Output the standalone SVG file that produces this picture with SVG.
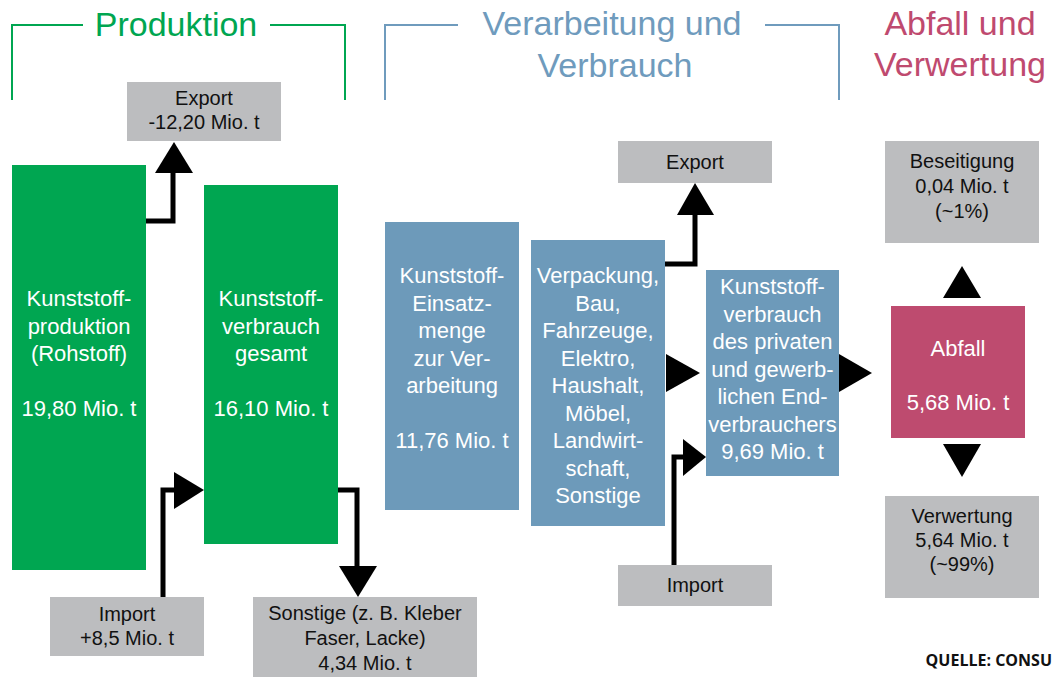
<svg xmlns="http://www.w3.org/2000/svg" width="1052" height="677" viewBox="0 0 1052 677">
<style>
text{font-family:"Liberation Sans",Arial,Helvetica,sans-serif;text-anchor:middle}
.h{font-size:34px}
.hg{fill:#00a651}.hb{fill:#6f9bbd}.hr{fill:#bf4a6f}
.br{fill:none;stroke-width:2}
.g{fill:#00a651}.b{fill:#6d9aba}.r{fill:#be4b6f}.gr{fill:#bcbdbf}
.wt{fill:#fff;font-size:22px}
.bt{fill:#111;font-size:20px}
.ln{fill:none;stroke:#000;stroke-width:5}
.ah{fill:#000}
.src{font-family:"Open Sans","Liberation Sans",sans-serif;font-weight:bold;font-size:16px;fill:#111;text-anchor:end}
</style>
<rect width="1052" height="677" fill="#fff"/>
<g id="header-produktion">
<polyline class="br" stroke="#00a651" points="12,100 12,25 83,25"/>
<polyline class="br" stroke="#00a651" points="270,25 345,25 345,100"/>
<text class="h hg" x="176" y="36">Produktion</text>
</g>
<g id="header-verarbeitung">
<polyline class="br" stroke="#6f9bbd" points="385,100 385,25 458,25"/>
<polyline class="br" stroke="#6f9bbd" points="765,25 839,25 839,100"/>
<text class="h hb" x="612" y="35">Verarbeitung und</text>
<text class="h hb" x="615" y="77">Verbrauch</text>
</g>
<g id="header-abfall">
<text class="h hr" x="960" y="35">Abfall und</text>
<text class="h hr" x="960" y="76">Verwertung</text>
</g>
<g id="connectors">
<polyline class="ln" points="146,221 173,221 173,172"/>
<polygon class="ah" points="174,142 155,173 193,173"/>
<polyline class="ln" points="163,597 163,490 176,490"/>
<polygon class="ah" points="174,472 174,509 204,490"/>
<polyline class="ln" points="338,490 357,490 357,567"/>
<polygon class="ah" points="339,566 377,566 358,597"/>
<polyline class="ln" points="665,264 695,264 695,213"/>
<polygon class="ah" points="695,183 677,215 714,215"/>
<polygon class="ah" points="666,354 666,392 700,373"/>
<polyline class="ln" points="674,565 674,457 685,457"/>
<polygon class="ah" points="683,439 683,476 706,457"/>
<polygon class="ah" points="839,354 839,392 872,373"/>
<polygon class="ah" points="962,266 943,298 981,298"/>
<polygon class="ah" points="943,444 981,444 962,477"/>
</g>
<g id="export1">
<rect class="gr" x="127" y="82" width="154" height="59"/>
<text class="bt" x="204" y="105">Export</text>
<text class="bt" x="204" y="129">-12,20 Mio. t</text>
</g>
<g id="produktion">
<rect class="g" x="12" y="165" width="134" height="405"/>
<text class="wt" x="79" y="306">Kunststoff-</text>
<text class="wt" x="79" y="333.5">produktion</text>
<text class="wt" x="79" y="361">(Rohstoff)</text>
<text class="wt" x="79" y="416">19,80 Mio. t</text>
</g>
<g id="verbrauch-gesamt">
<rect class="g" x="204" y="185" width="134" height="359"/>
<text class="wt" x="271" y="306">Kunststoff-</text>
<text class="wt" x="271" y="333.5">verbrauch</text>
<text class="wt" x="271" y="361">gesamt</text>
<text class="wt" x="271" y="416">16,10 Mio. t</text>
</g>
<g id="import1">
<rect class="gr" x="50" y="597" width="154" height="59"/>
<text class="bt" x="127" y="621">Import</text>
<text class="bt" x="127" y="645">+8,5 Mio. t</text>
</g>
<g id="sonstige">
<rect class="gr" x="253" y="597" width="224" height="80"/>
<text class="bt" x="365" y="620">Sonstige (z. B. Kleber</text>
<text class="bt" x="365" y="645">Faser, Lacke)</text>
<text class="bt" x="365" y="670">4,34 Mio. t</text>
</g>
<g id="einsatzmenge">
<rect class="b" x="385" y="222" width="134" height="288"/>
<text class="wt" x="452" y="283">Kunststoff-</text>
<text class="wt" x="452" y="310.5">Einsatz-</text>
<text class="wt" x="452" y="338">menge</text>
<text class="wt" x="452" y="365.5">zur Ver-</text>
<text class="wt" x="452" y="393">arbeitung</text>
<text class="wt" x="452" y="448">11,76 Mio. t</text>
</g>
<g id="branchen">
<rect class="b" x="531" y="240" width="134" height="286"/>
<text class="wt" x="598" y="283">Verpackung,</text>
<text class="wt" x="598" y="310.5">Bau,</text>
<text class="wt" x="598" y="338">Fahrzeuge,</text>
<text class="wt" x="598" y="365.5">Elektro,</text>
<text class="wt" x="598" y="393">Haushalt,</text>
<text class="wt" x="598" y="420.5">Möbel,</text>
<text class="wt" x="598" y="448">Landwirt-</text>
<text class="wt" x="598" y="475.5">schaft,</text>
<text class="wt" x="598" y="503">Sonstige</text>
</g>
<g id="export2">
<rect class="gr" x="618" y="141" width="154" height="42"/>
<text class="bt" x="695" y="169">Export</text>
</g>
<g id="endverbraucher">
<rect class="b" x="706" y="270" width="133" height="206"/>
<text class="wt" x="772.5" y="294">Kunststoff-</text>
<text class="wt" x="772.5" y="321.5">verbrauch</text>
<text class="wt" x="772.5" y="349">des privaten</text>
<text class="wt" x="772.5" y="376.5">und gewerb-</text>
<text class="wt" x="772.5" y="404">lichen End-</text>
<text class="wt" x="772.5" y="431.5">verbrauchers</text>
<text class="wt" x="772.5" y="459">9,69 Mio. t</text>
</g>
<g id="import2">
<rect class="gr" x="618" y="565" width="154" height="41"/>
<text class="bt" x="695" y="592">Import</text>
</g>
<g id="beseitigung">
<rect class="gr" x="885" y="141" width="154" height="102"/>
<text class="bt" x="962" y="168">Beseitigung</text>
<text class="bt" x="962" y="193">0,04 Mio. t</text>
<text class="bt" x="962" y="218">(~1%)</text>
</g>
<g id="abfall">
<rect class="r" x="891" y="306" width="134" height="132"/>
<text class="wt" x="958" y="356">Abfall</text>
<text class="wt" x="958" y="410">5,68 Mio. t</text>
</g>
<g id="verwertung">
<rect class="gr" x="885" y="496" width="154" height="102"/>
<text class="bt" x="962" y="523">Verwertung</text>
<text class="bt" x="962" y="547">5,64 Mio. t</text>
<text class="bt" x="962" y="571">(~99%)</text>
</g>
<text class="src" x="1052" y="666">QUELLE: CONSU</text>
</svg>
